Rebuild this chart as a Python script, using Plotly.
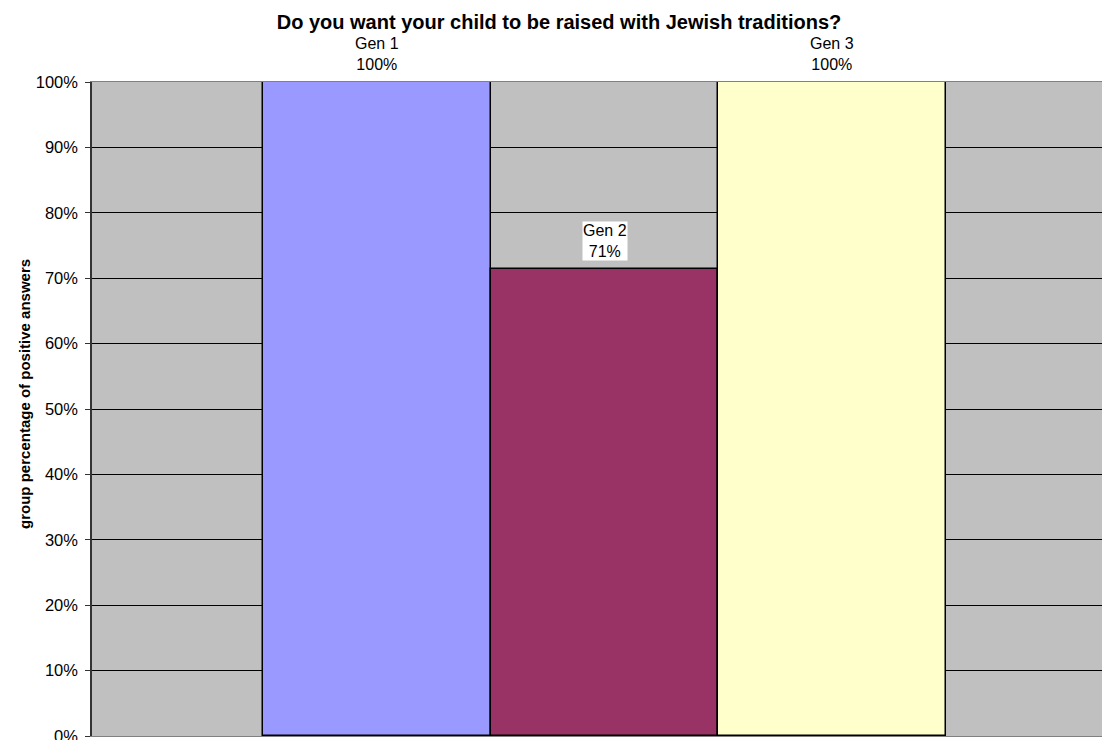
import plotly.graph_objects as go

# Survey answers by generation
generations = ["Gen 1", "Gen 2", "Gen 3"]
positive_share = [100, 71.4, 100]
share_labels = ["100%", "71%", "100%"]
bar_colors = ["#9999FF", "#993366", "#FFFFCC"]

y_ticks = list(range(0, 101, 10))
y_tick_text = [f"{v}%" for v in y_ticks]

FONT = "Liberation Sans, Arial, sans-serif"

fig = go.Figure()
fig.add_trace(go.Bar(
    x=generations,
    y=positive_share,
    marker=dict(color=bar_colors, line=dict(color="#000000", width=1.5)),
    width=1.0,
    showlegend=False,
    hoverinfo="skip",
))

# Value labels above each bar
for gen, val, lab in zip(generations, positive_share, share_labels):
    fig.add_annotation(
        x=gen, y=val, xref="x", yref="y",
        text=f"{gen}<br>{lab}",
        showarrow=False, yanchor="bottom", yshift=8,
        bgcolor="#FFFFFF", borderpad=0,
        font=dict(family=FONT, size=16, color="#000000"),
    )

# Vertical axis caption
fig.add_annotation(
    x=0, xref="paper", xshift=-67, xanchor="center",
    y=0.523, yref="paper", yanchor="middle",
    text="<b>group percentage of positive answers</b>",
    textangle=-90, showarrow=False,
    font=dict(family=FONT, size=15, color="#000000"),
)

fig.update_layout(
    width=1102, height=740,
    margin=dict(l=92, r=0, t=82, b=4, autoexpand=False),
    paper_bgcolor="#FFFFFF",
    plot_bgcolor="#C0C0C0",
    bargap=0,
    title=dict(
        text="<b>Do you want your child to be raised with Jewish traditions?</b>",
        x=559 / 1102, xanchor="center", xref="container",
        y=1 - 22 / 740, yanchor="middle", yref="container",
        font=dict(family=FONT, size=20, color="#000000"),
    ),
    font=dict(family=FONT, size=16, color="#000000"),
)

fig.update_xaxes(
    type="category",
    range=[-1.251, 3.185],
    showticklabels=False,
    ticks="",
    showgrid=False,
    showline=True, linecolor="#808080", linewidth=1,
    mirror=True,
    zeroline=False,
    automargin=False,
)

fig.update_yaxes(
    range=[0, 100],
    tickvals=y_ticks,
    ticktext=y_tick_text,
    ticks="outside", ticklen=5, tickcolor="#333333", tickwidth=1,
    ticklabelstandoff=4,
    ticklabeloverflow="allow",
    showgrid=True, gridcolor="#000000", gridwidth=1,
    showline=True, linecolor="#333333", linewidth=1.5,
    zeroline=False,
    automargin=False,
    tickfont=dict(family=FONT, size=16.5, color="#000000"),
)

fig.write_html("out.html")
